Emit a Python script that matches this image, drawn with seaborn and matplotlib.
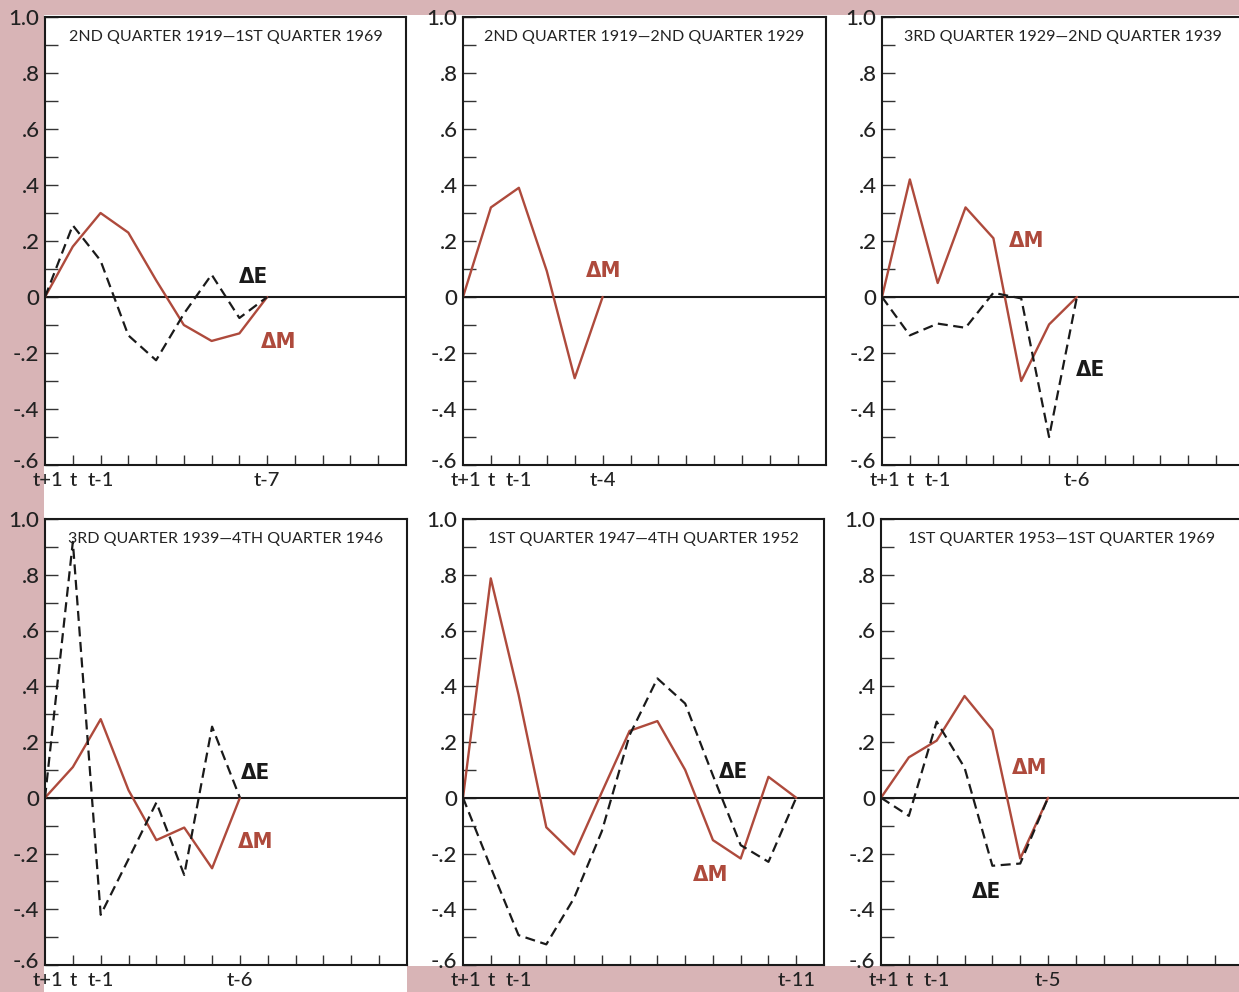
import numpy as np
import pandas as pd
import matplotlib
matplotlib.use("Agg")
import matplotlib.pyplot as plt
import matplotlib.transforms as mtransforms
from matplotlib.patches import Rectangle
from matplotlib.ticker import MultipleLocator, FixedLocator
import seaborn as sns

# -----------------------------
# Data
# x position 0 = t+1, 1 = t, 2 = t-1, ... k+1 = t-k
# -----------------------------
titles = [
    "2ND QUARTER 1919\u20141ST QUARTER 1969",
    "2ND QUARTER 1919\u20142ND QUARTER 1929",
    "3RD QUARTER 1929\u20142ND QUARTER 1939",
    "3RD QUARTER 1939\u20144TH QUARTER 1946",
    "1ST QUARTER 1947\u20144TH QUARTER 1952",
    "1ST QUARTER 1953\u20141ST QUARTER 1969",
]
last_lag_labels = ["t-7", "t-4", "t-6", "t-6", "t-11", "t-5"]

dm_1 = [0, 0.18, 0.30, 0.23, 0.06, -0.10, -0.157, -0.13, 0]
de_1 = [0, 0.256, 0.13, -0.137, -0.226, -0.06, 0.08, -0.075, 0]

dm_2 = [0, 0.32, 0.39, 0.093, -0.29, 0]
de_2 = None

dm_3 = [0, 0.42, 0.05, 0.32, 0.21, -0.30, -0.098, 0]
de_3 = [0, -0.137, -0.095, -0.11, 0.015, -0.005, -0.50, 0]

dm_4 = [0, 0.11, 0.282, 0.027, -0.152, -0.107, -0.253, 0]
de_4 = [0, 0.918, -0.42, -0.22, -0.017, -0.277, 0.255, 0]

dm_5 = [0, 0.787, 0.37, -0.106, -0.203, 0.02, 0.24, 0.275, 0.10, -0.152, -0.218, 0.075, 0]
de_5 = [0, -0.25, -0.493, -0.526, -0.36, -0.12, 0.225, 0.428, 0.338, 0.08, -0.17, -0.23, 0]

dm_6 = [0, 0.145, 0.205, 0.365, 0.243, -0.218, 0]
de_6 = [0, -0.065, 0.273, 0.108, -0.244, -0.236, 0]

dm_series = [dm_1, dm_2, dm_3, dm_4, dm_5, dm_6]
de_series = [de_1, de_2, de_3, de_4, de_5, de_6]

# label anchor positions (data coords) for the ΔE / ΔM tags
dm_label_pos = [(8.4, -0.16), (5.05, 0.093), (5.2, 0.2), (7.55, -0.158), (8.93, -0.277), (5.34, 0.108)]
de_label_pos = [(7.5, 0.07), None, (7.5, -0.26), (7.55, 0.087), (9.74, 0.093), (3.78, -0.337)]

y_ticks = [-0.6, -0.4, -0.2, 0, 0.2, 0.4, 0.6, 0.8, 1.0]
y_ticklabels = ["-.6", "-.4", "-.2", "0", ".2", ".4", ".6", ".8", "1.0"]

RED = "#AE4A3C"
PINK = "#D8B4B6"
W, H = 1239, 992

sns.set_style("white")
plt.rcParams["font.family"] = ["Lato", "DejaVu Sans"]

fig = plt.figure(figsize=(W / 100, H / 100), dpi=100)
fig.patch.set_facecolor("white")

# pink page edges of the scan
for (x0, y0, w, h) in [(0, 0, W, 15), (0, 0, 44, H), (407, 966, W - 407, H - 966)]:
    fig.patches.append(Rectangle((x0 / W, 1 - (y0 + h) / H), w / W, h / H,
                                 transform=fig.transFigure, facecolor=PINK,
                                 edgecolor="none", zorder=-10))

# axes rectangles in pixels: left, top, width, height
boxes = [(45, 17, 361, 448), (463, 17, 363, 448), (882, 17, 362, 448),
         (45, 519, 362, 446), (463, 519, 361, 446), (881, 519, 362, 446)]

up_shift = mtransforms.ScaledTranslation(0, 5 / 100, fig.dpi_scale_trans)
right_shift = mtransforms.ScaledTranslation(3 / 100, 0, fig.dpi_scale_trans)

for i, (lx, ty, bw, bh) in enumerate(boxes):
    ax = fig.add_axes([lx / W, 1 - (ty + bh) / H, bw / W, bh / H])
    ax.set_facecolor("white")

    dm = dm_series[i]
    df = pd.DataFrame({"lag": np.arange(len(dm)), "value": dm})
    sns.lineplot(data=df, x="lag", y="value", ax=ax, color=RED, lw=1.7)
    if de_series[i] is not None:
        de = de_series[i]
        df_e = pd.DataFrame({"lag": np.arange(len(de)), "value": de})
        sns.lineplot(data=df_e, x="lag", y="value", ax=ax, color="#1a1a1a",
                     lw=1.6, dashes=False, linestyle=(0, (4.5, 2.5)))

    ax.axhline(0, color="#1a1a1a", lw=1.5, zorder=1)
    ax.set_xlim(0, 13)
    ax.set_ylim(-0.6, 1.0)

    ax.yaxis.set_major_locator(FixedLocator(y_ticks))
    ax.set_yticklabels(y_ticklabels, fontweight="medium")
    ax.yaxis.set_minor_locator(MultipleLocator(0.1))
    ax.tick_params(axis="y", which="both", direction="in", length=9, width=1,
                   color="#333333", left=True, labelsize=16, pad=4,
                   labelcolor="#222222")

    last = len(dm) - 1
    xt = list(range(0, 13))
    xl = [""] * 13
    xl[0], xl[1], xl[2] = "t+1", "t", "t-1"
    xl[last] = last_lag_labels[i]
    ax.set_xticks(xt)
    ax.set_xticklabels(xl, fontweight="medium")
    ax.tick_params(axis="x", which="major", direction="in", length=7, width=1,
                   color="#333333", bottom=True, labelsize=14.5, pad=5,
                   labelcolor="#222222")
    ax.get_xticklines()[0].set_visible(False)

    # nudge the corner labels apart, like the original
    ylab0 = ax.get_yticklabels()[0]
    ylab0.set_transform(ylab0.get_transform() + up_shift)
    xlab0 = ax.get_xticklabels()[0]
    xlab0.set_transform(xlab0.get_transform() + right_shift)

    for s in ax.spines.values():
        s.set_visible(True)
        s.set_linewidth(1.5)
        s.set_color("#1a1a1a")

    ax.set_xlabel("")
    ax.set_ylabel("")
    ax.text(0.5, 0.955, titles[i], transform=ax.transAxes, ha="center",
            va="center", fontsize=11.5, color="#222222")

    mx, my = dm_label_pos[i]
    ax.text(mx, my, "\u0394M", color=RED, fontsize=16, fontweight="bold",
            fontstretch="condensed", ha="center", va="center",
            family=["DejaVu Sans"])
    if de_label_pos[i] is not None:
        ex, ey = de_label_pos[i]
        ax.text(ex, ey, "\u0394E", color="#1a1a1a", fontsize=16,
                fontweight="bold", fontstretch="condensed", ha="center",
                va="center", family=["DejaVu Sans"])

fig.savefig("out.png", dpi=100, facecolor=fig.get_facecolor())
